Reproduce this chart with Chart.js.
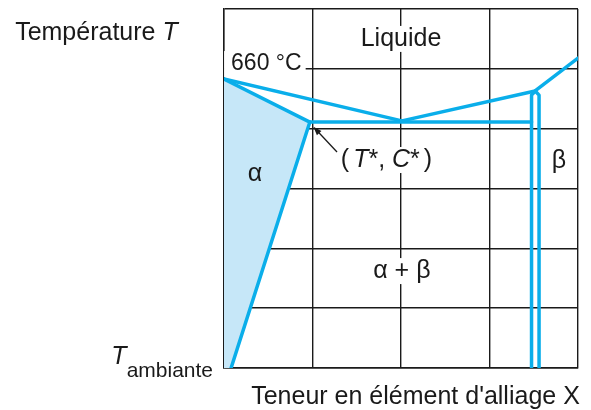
<!DOCTYPE html>
<html>
<head>
<meta charset="utf-8">
<script src="https://cdn.jsdelivr.net/npm/chart.js@4/dist/chart.umd.min.js"></script>
<style>
  body { margin: 0; background: #fff; }
</style>
</head>
<body>
<canvas id="diagramme" width="591" height="410"></canvas>
<script>
// Diagramme de phases binaire eutectique (schéma)
// axe x : teneur en X (4 cases), axe y : température (6 cases)

const liquidusX = [0, 2.01, 3.515, 4.0];
const liquidusY = [4.83, 4.13, 4.63, 5.18];

const alphaBoundX = [0, 0.97, 0.08];
const alphaBoundY = [4.83, 4.11, 0];

const eutecticX = [0.97, 3.475];
const eutecticY = [4.11, 4.11];

const betaX = [3.475, 3.475, 3.517, 3.56, 3.56];
const betaY = [0, 4.56, 4.63, 4.56, 0];

const alphaFieldX = [0, 0.97, 0.08, 0];
const alphaFieldY = [4.83, 4.11, 0, 0];

const arrowFrom = [1.277, 3.61];
const arrowTo = [1.01, 4.03];

const BLUE = '#0aaeea';
const LIGHT = 'rgb(198, 231, 248)';
const INK = '#1a1a1a';
const FONT = "'Liberation Sans', Arial, sans-serif";

// textes : segments [texte, italique, taille, décalage vertical] ; [n] = espace de n px
const labels = [
    { segs: [['Liquide', 0]], x: 2.0, y: 5.5, align: 'center', bg: true },
    { segs: [['660 °C', 0, 23]], x: 0.08, y: 5.08, align: 'left', bg: true, padL: 7 },
    { segs: [['(', 0], [4], ['T', 1], ['*, ', 0], ['C', 1], ['*', 0], [4], [')', 0]], x: 1.836, y: 3.476, align: 'center', bg: true },
    { segs: [['β', 0]], x: 3.785, y: 3.46, align: 'center' },
    { segs: [['α', 0]], x: 0.35, y: 3.24, align: 'center' },
    { segs: [['α + β', 0]], x: 2.01, y: 1.62, align: 'center', bg: true },
    { segs: [['Température ', 0], ['T', 1]], x: -2.36, y: 5.6, align: 'left' },
    { segs: [['T', 1], ['ambiante', 0, 21, 14]], x: -0.124, y: 0.18, align: 'right' },
    { segs: [["Teneur en élément d'alliage X", 0]], x: 2.164, y: -0.485, align: 'center' }
];

function pts(xs, ys) {
    return xs.map((x, i) => ({ x: x, y: ys[i] }));
}

function segFont(s) {
    const size = s[2] || 25;
    return (s[1] ? 'italic ' : '') + size + 'px ' + FONT;
}

function measure(ctx, segs) {
    let w = 0;
    segs.forEach(s => {
        if (s.length === 1) { w += s[0]; return; }
        ctx.font = segFont(s);
        w += ctx.measureText(s[0]).width;
    });
    return w;
}

function startX(lab, px, w) {
    if (lab.align === 'center') return px - w / 2;
    if (lab.align === 'right') return px - w;
    return px;
}

const labelPlugin = {
    id: 'labels',
    beforeDatasetsDraw(chart) {
        const ctx = chart.ctx;
        const sx = chart.scales.x, sy = chart.scales.y;
        ctx.save();
        ctx.fillStyle = '#fff';
        labels.filter(l => l.bg).forEach(lab => {
            const w = measure(ctx, lab.segs);
            const px = sx.getPixelForValue(lab.x);
            const py = sy.getPixelForValue(lab.y);
            const x0 = startX(lab, px, w);
            const padL = lab.padL || 4;
            ctx.fillRect(x0 - padL, py - 13, w + padL + 4, 26);
        });
        ctx.restore();
    },
    afterDatasetsDraw(chart) {
        const ctx = chart.ctx;
        const sx = chart.scales.x, sy = chart.scales.y;
        ctx.save();
        ctx.fillStyle = INK;
        ctx.textBaseline = 'middle';
        ctx.textAlign = 'left';
        labels.forEach(lab => {
            const w = measure(ctx, lab.segs);
            const py = sy.getPixelForValue(lab.y);
            let x = startX(lab, sx.getPixelForValue(lab.x), w);
            lab.segs.forEach(s => {
                if (s.length === 1) { x += s[0]; return; }
                ctx.font = segFont(s);
                ctx.fillText(s[0], x, py + (s[3] || 0));
                x += ctx.measureText(s[0]).width;
            });
        });

        // flèche vers le point (T*, C*)
        const x1 = sx.getPixelForValue(arrowFrom[0]), y1 = sy.getPixelForValue(arrowFrom[1]);
        const x2 = sx.getPixelForValue(arrowTo[0]), y2 = sy.getPixelForValue(arrowTo[1]);
        const ang = Math.atan2(y2 - y1, x2 - x1);
        ctx.strokeStyle = INK;
        ctx.lineWidth = 1.3;
        ctx.beginPath();
        ctx.moveTo(x1, y1);
        ctx.lineTo(x2 - 4 * Math.cos(ang), y2 - 4 * Math.sin(ang));
        ctx.stroke();
        ctx.beginPath();
        ctx.moveTo(x2, y2);
        ctx.lineTo(x2 - 9 * Math.cos(ang - 0.35), y2 - 9 * Math.sin(ang - 0.35));
        ctx.lineTo(x2 - 9 * Math.cos(ang + 0.35), y2 - 9 * Math.sin(ang + 0.35));
        ctx.closePath();
        ctx.fill();
        ctx.restore();
    }
};

const lineStyle = { borderColor: BLUE, borderWidth: 3.5, fill: false, pointRadius: 0 };

new Chart(document.getElementById('diagramme'), {
    type: 'line',
    data: {
        datasets: [
            Object.assign({ label: 'Liquidus', data: pts(liquidusX, liquidusY) }, lineStyle),
            Object.assign({ label: 'Solidus / solvus α', data: pts(alphaBoundX, alphaBoundY) }, lineStyle),
            Object.assign({ label: 'Palier eutectique', data: pts(eutecticX, eutecticY) }, lineStyle),
            Object.assign({ label: 'Solvus β', data: pts(betaX, betaY) }, lineStyle),
            {
                label: 'Domaine α',
                data: pts(alphaFieldX, alphaFieldY),
                borderWidth: 0,
                borderColor: LIGHT,
                backgroundColor: LIGHT,
                pointRadius: 0,
                fill: 'shape'
            }
        ]
    },
    options: {
        responsive: false,
        animation: false,
        layout: { padding: { left: 224, right: 13, top: 9, bottom: 42 } },
        plugins: { legend: { display: false }, tooltip: { enabled: false } },
        elements: { line: { tension: 0, borderCapStyle: 'round', borderJoinStyle: 'round' } },
        scales: {
            x: {
                type: 'linear', min: 0, max: 4,
                ticks: { display: false, stepSize: 1 },
                grid: { color: INK, lineWidth: 1.4, drawTicks: false },
                border: { display: true, color: INK, width: 1.4 }
            },
            y: {
                type: 'linear', min: 0, max: 6,
                ticks: { display: false, stepSize: 1 },
                grid: { color: INK, lineWidth: 1.4, drawTicks: false },
                border: { display: true, color: INK, width: 1.4 }
            }
        }
    },
    plugins: [labelPlugin]
});
</script>
</body>
</html>
